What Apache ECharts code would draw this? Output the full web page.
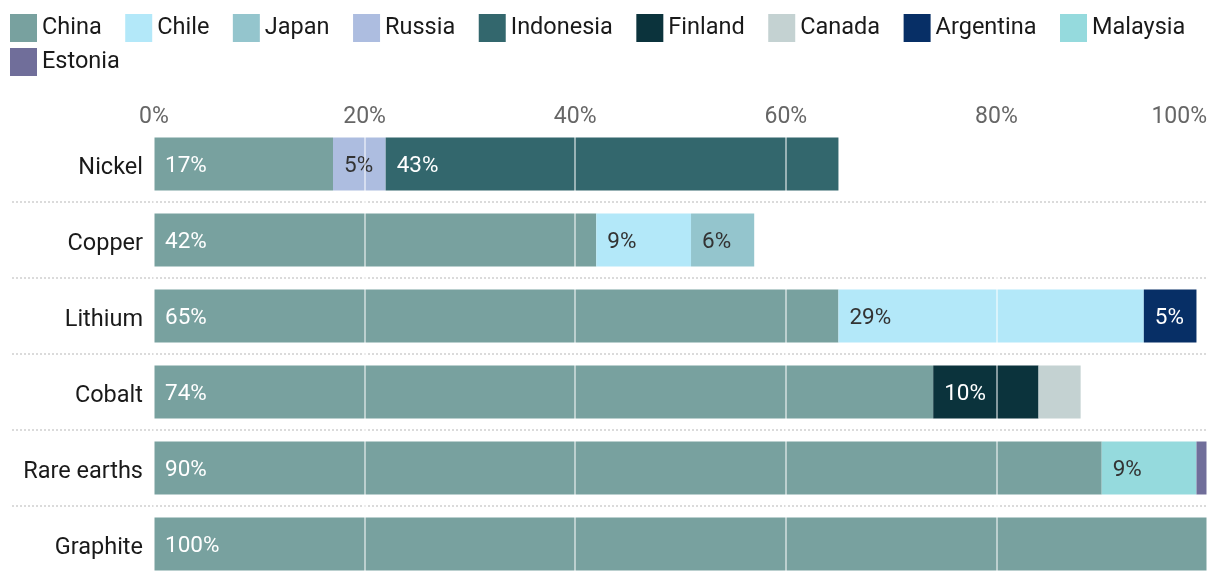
<!DOCTYPE html>
<html><head><meta charset="utf-8">
<script src="https://cdn.jsdelivr.net/npm/echarts@6/dist/echarts.min.js"></script>
<style>html,body{margin:0;padding:0;background:#fff}#c{width:1220px;height:584px}</style>
</head><body><div id="c"></div>
<script>
const categories = ['Nickel','Copper','Lithium','Cobalt','Rare earths','Graphite'];
const countries = ['China','Chile','Japan','Russia','Indonesia','Finland','Canada','Argentina','Malaysia','Estonia'];
const china     = [17, 42, 65, 74, 90, 100];
const chile     = [null, 9, 29, null, null, null];
const japan     = [null, 6, null, null, null, null];
const russia    = [5, null, null, null, null, null];
const indonesia = [43, null, null, null, null, null];
const finland   = [null, null, null, 10, null, null];
const canada    = [null, null, null, 4, null, null];
const argentina = [null, null, 5, null, null, null];
const malaysia  = [null, null, null, null, 9, null];
const estonia   = [null, null, null, null, 1, null];
const xTicks = [0, 20, 40, 60, 80, 100];

const values = [china, chile, japan, russia, indonesia, finland, canada, argentina, malaysia, estonia];
const colors = ['#78a19f','#b3e8f9','#94c5cd','#adbde0','#33676d','#0b333c','#c4d2d2','#072f66','#95dadd','#706e9a'];
const labelColors = ['#ffffff','#333333','#333333','#333333','#ffffff','#ffffff','#333333','#ffffff','#333333','#ffffff'];
const FONT = 'Roboto, "Noto Sans", sans-serif';

const series = countries.map((name, i) => ({
  name, type: 'bar', stack: 'total', data: values[i],
  xAxisIndex: 0, yAxisIndex: 0,
  barWidth: 53,
  itemStyle: { color: colors[i] },
  label: {
    show: true, position: 'insideLeft', distance: 11, offset: [0, 2],
    color: labelColors[i], fontSize: 22.5, fontFamily: FONT,
    formatter: p => (p.value >= 5 ? p.value + '%' : '')
  },
  emphasis: { disabled: true }
}));

const legendBase = {
  left: 10, padding: 0,
  itemWidth: 27, itemHeight: 28, itemGap: 23.5,
  icon: 'rect',
  textStyle: { fontSize: 23.5, color: '#1a1a1a', fontFamily: FONT }
};

const chart = echarts.init(document.getElementById('c'), null, { renderer: 'canvas' });
chart.setOption({
  animation: false,
  color: colors,
  legend: [
    Object.assign({}, legendBase, { top: 14, data: countries.slice(0, 9) }),
    Object.assign({}, legendBase, { top: 48, data: countries.slice(9) })
  ],
  grid: [
    { left: 154, right: 13, top: 126, height: 456, containLabel: false, outerBoundsMode: 'none' },
    { left: 12, right: 13, top: 126, height: 456, containLabel: false, outerBoundsMode: 'none' }
  ],
  xAxis: [
    {
      gridIndex: 0, type: 'value', position: 'top', min: 0, max: 100, interval: 20, z: 5,
      axisLine: { show: false }, axisTick: { show: false },
      axisLabel: { color: '#666', fontSize: 23, fontFamily: FONT, margin: -3, alignMaxLabel: 'right',
        formatter: v => (xTicks.includes(v) ? v + '%' : '') },
      splitLine: { show: true, lineStyle: { color: 'rgba(255,255,255,0.5)', width: 2 } }
    },
    { gridIndex: 1, type: 'value', min: 0, max: 100, show: false }
  ],
  yAxis: [
    {
      gridIndex: 0, type: 'category', data: categories, inverse: true,
      axisLine: { show: false }, axisTick: { show: false },
      axisLabel: { color: '#1a1a1a', fontSize: 23.5, fontFamily: FONT, margin: 11,
        formatter: v => '{a|' + v + '}',
        rich: { a: { color: '#1a1a1a', fontSize: 23.5, fontFamily: FONT, padding: [8, 0, 0, 0] } } },
      splitLine: { show: false }
    },
    {
      gridIndex: 1, type: 'category', data: categories, inverse: true,
      axisLine: { show: false }, axisTick: { show: false }, axisLabel: { show: false },
      splitLine: { show: true, showMinLine: false, showMaxLine: false,
        lineStyle: { color: '#cfcfcf', width: 1.5, type: [2, 2] } }
    }
  ],
  series
});
</script></body></html>
